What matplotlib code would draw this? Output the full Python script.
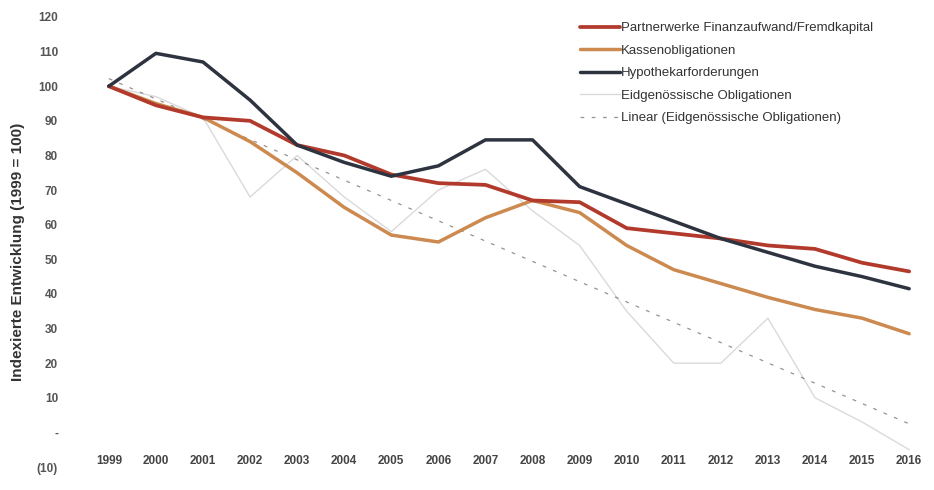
import numpy as np
import matplotlib
matplotlib.use("Agg")
import matplotlib.pyplot as plt

years = list(range(1999, 2017))

partnerwerke = [100, 94.5, 91, 90, 83, 80, 74.5, 72, 71.5, 67, 66.5, 59, 57.5, 56, 54, 53, 49, 46.5]
kassenobligationen = [100, 95, 91, 84, 75, 65, 57, 55, 62, 67, 63.5, 54, 47, 43, 39, 35.5, 33, 28.5]
hypothekar = [100, 109.5, 107, 96, 83, 78, 74, 77, 84.5, 84.5, 71, 66, 61, 56, 52, 48, 45, 41.5]
eidgenoessische = [100, 97, 91, 68, 80, 68, 58, 70, 76, 64, 54, 35, 20, 20, 33, 10, 3, -5]

labels = [
    "Partnerwerke Finanzaufwand/Fremdkapital",
    "Kassenobligationen",
    "Hypothekarforderungen",
    "Eidgenössische Obligationen",
    "Linear (Eidgenössische Obligationen)",
]
y_ticks = list(range(-10, 121, 10))
y_ticklabels = ["(10)", "-"] + [str(v) for v in range(10, 121, 10)]

plt.rcParams["font.family"] = ["Liberation Sans", "DejaVu Sans"]

fig = plt.figure(figsize=(9.34, 4.90), dpi=100)
ax = fig.add_axes([90 / 934, 23 / 490, 838 / 934, 450 / 490])

x = np.array(years, dtype=float)
ax.plot(x, partnerwerke, color="#b23a2c", lw=2.7, solid_capstyle="round", label=labels[0], zorder=4)
ax.plot(x, kassenobligationen, color="#cc8a50", lw=2.5, solid_capstyle="round", label=labels[1], zorder=3)
ax.plot(x, hypothekar, color="#2e3340", lw=2.5, solid_capstyle="round", label=labels[2], zorder=5)
ax.plot(x, eidgenoessische, color="#dadada", lw=1.0, label=labels[3], zorder=2)

# least-squares trend of the federal bond series
coef = np.polyfit(x, np.array(eidgenoessische, dtype=float), 1)
ax.plot(x, np.polyval(coef, x), color="#666666", lw=0.9, dashes=(3, 6), alpha=0.7,
        label=labels[4], zorder=2)

ax.set_xlim(1998.6, 2016.4)
ax.set_ylim(-10, 120)
ax.set_xticks(years)
ax.set_xticklabels([str(y) for y in years], fontsize=8.5, fontweight="bold", color="#444444")
ax.set_yticks(y_ticks)
ax.set_yticklabels(y_ticklabels, fontsize=8.5, fontweight="bold", color="#555555")
ax.tick_params(axis="both", length=0)
ax.tick_params(axis="x", pad=-9)
ax.tick_params(axis="y", pad=23)
for s in ax.spines.values():
    s.set_visible(False)

fig.text(18 / 934, 1 - 252 / 490, "Indexierte Entwicklung (1999 = 100)", rotation=90,
         ha="center", va="center", fontsize=11, fontweight="bold", color="#333333")

leg = ax.legend(loc="upper left", bbox_to_anchor=(580 / 934, 1 - 22 / 490),
                bbox_transform=fig.transFigure, frameon=False, fontsize=9.5,
                handlelength=3.0, handletextpad=0.1, labelspacing=0.78, borderpad=0,
                borderaxespad=0)
for t in leg.get_texts():
    t.set_color("#333333")

fig.savefig("out.png", dpi=100, facecolor="white")
